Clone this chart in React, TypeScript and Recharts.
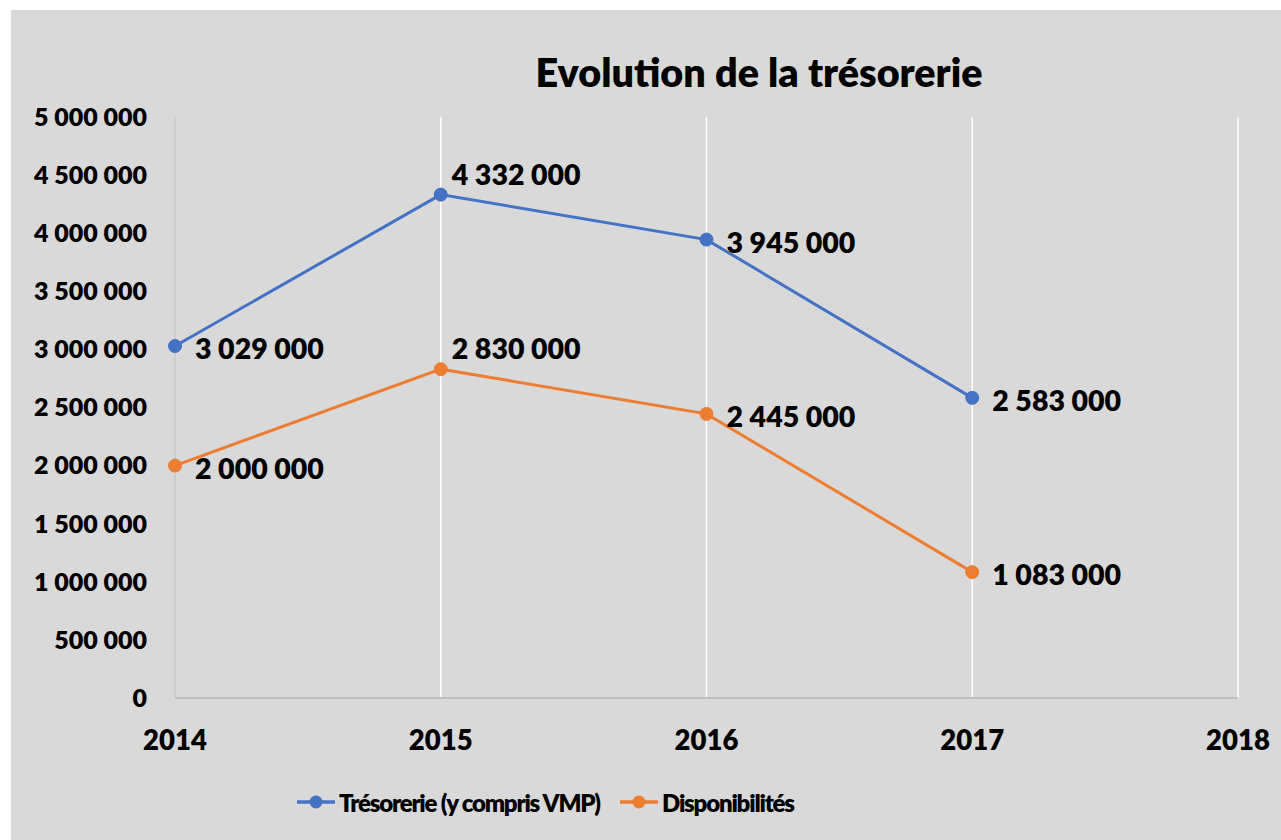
import { LineChart, Line, XAxis, YAxis, CartesianGrid, LabelList } from 'recharts'

const years = ['2014', '2015', '2016', '2017', '2018']
const tresorerie = [3029000, 4332000, 3945000, 2583000, null]
const disponibilites = [2000000, 2830000, 2445000, 1083000, null]
const yTicks = [0, 500000, 1000000, 1500000, 2000000, 2500000, 3000000, 3500000, 4000000, 4500000, 5000000]

const SERIES = [
  { key: 'tresorerie', name: 'Trésorerie (y compris VMP)', color: '#4472c4', legendLeft: 296 },
  { key: 'disponibilites', name: 'Disponibilités', color: '#ed7d31', legendLeft: 619 },
]

const FONT = 'Lato, "Open Sans", sans-serif'
const WEIGHT = 800

const chartData = years.map((year, i) => ({
  year,
  tresorerie: tresorerie[i],
  disponibilites: disponibilites[i],
}))

const fmt = (v: number) => String(v).replace(/\B(?=(\d{3})+(?!\d))/g, ' ')

// excel puts the 2015 labels above-right, the rest to the right
const renderLabel = (props: any) => {
  const { x, y, value, index } = props
  if (value == null) return null
  const above = index === 1
  return (
    <text
      x={x + (above ? 11 : 20)}
      y={y + (above ? -21 : 2)}
      dominantBaseline="central"
      fontFamily={FONT}
      fontWeight={WEIGHT}
      fontSize={28.5}
      fill="#000"
    >
      {fmt(value)}
    </text>
  )
}

const ChartLegend = () => (
  <>
    {SERIES.map((s) => (
      <div
        key={s.key}
        style={{
          position: 'absolute',
          left: s.legendLeft,
          top: 788,
          height: 28,
          display: 'flex',
          alignItems: 'center',
          gap: 3,
          fontFamily: FONT,
          fontWeight: WEIGHT,
          fontSize: 24,
          letterSpacing: -1.2,
          color: '#000',
          whiteSpace: 'nowrap',
        }}
      >
        <svg width={40} height={16}>
          <line x1={1} y1={8} x2={39} y2={8} stroke={s.color} strokeWidth={3.5} />
          <circle cx={20} cy={8} r={6.5} fill={s.color} />
        </svg>
        <span>{s.name}</span>
      </div>
    ))}
  </>
)

export default function App() {
  return (
    <div style={{ position: 'relative', width: 1281, height: 840, background: '#fff', overflow: 'hidden' }}>
      <style>{'body{margin:0}'}</style>
      <div style={{ position: 'absolute', left: 11, top: 10, width: 1270, height: 830, background: '#d9d9d9' }} />
      <div
        style={{
          position: 'absolute',
          left: 0,
          width: 1518,
          top: 52,
          lineHeight: '40px',
          textAlign: 'center',
          fontFamily: FONT,
          fontWeight: WEIGHT,
          fontSize: 39.5,
          color: '#000',
        }}
      >
        Evolution de la trésorerie
      </div>
      <div style={{ position: 'absolute', left: 0, top: 0 }}>
        <LineChart width={1281} height={840} data={chartData} margin={{ top: 117, right: 43, bottom: 112, left: 15 }}>
          <CartesianGrid horizontal={false} stroke="#ffffff" strokeWidth={1.5} />
          <XAxis
            dataKey="year"
            height={30}
            stroke="#bfbfbf"
            strokeWidth={2}
            tickLine={false}
            tickSize={0}
            tickMargin={32}
            tick={{ fill: '#000', fontFamily: FONT, fontWeight: WEIGHT, fontSize: 27.5 }}
          />
          <YAxis
            width={160}
            domain={[0, 5000000]}
            ticks={yTicks}
            interval={0}
            stroke="#bfbfbf"
            strokeWidth={1.5}
            tickLine={false}
            tickSize={0}
            tickMargin={28}
            tickFormatter={fmt}
            tick={{ fill: '#000', fontFamily: FONT, fontWeight: WEIGHT, fontSize: 25 }}
          />
          {SERIES.map((s) => (
            <Line
              key={s.key}
              dataKey={s.key}
              name={s.name}
              stroke={s.color}
              strokeWidth={3}
              dot={{ r: 6.5, fill: s.color, stroke: s.color, strokeWidth: 1 }}
              isAnimationActive={false}
            >
              <LabelList dataKey={s.key} content={renderLabel} />
            </Line>
          ))}
        </LineChart>
      </div>
      <ChartLegend />
    </div>
  )
}
